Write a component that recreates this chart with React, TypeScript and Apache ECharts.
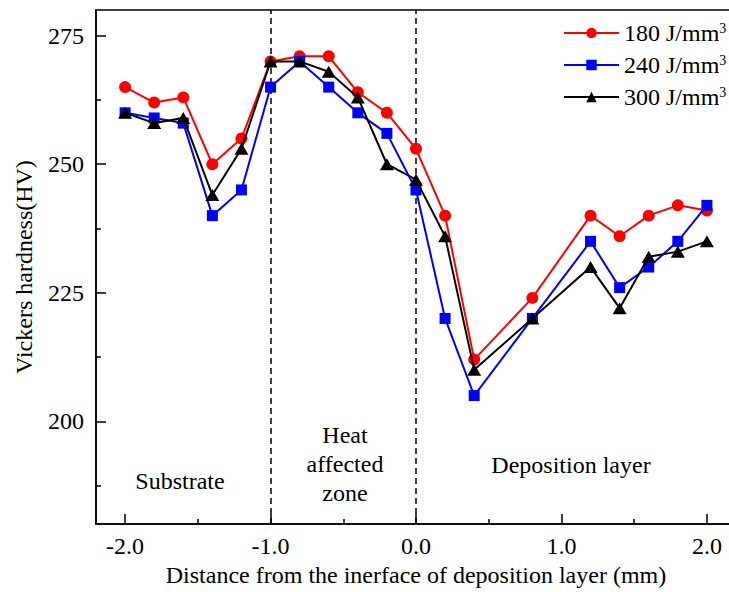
import React, { useEffect, useRef } from "react";
import * as echarts from "echarts";

const xValues = [-2.0, -1.8, -1.6, -1.4, -1.2, -1.0, -0.8, -0.6, -0.4, -0.2, 0.0, 0.2, 0.4, 0.8, 1.2, 1.4, 1.6, 1.8, 2.0];
const hv180 = [265, 262, 263, 250, 255, 270, 271, 271, 264, 260, 253, 240, 212, 224, 240, 236, 240, 242, 241];
const hv240 = [260, 259, 258, 240, 245, 265, 270, 265, 260, 256, 245, 220, 205, 220, 235, 226, 230, 235, 242];
const hv300 = [260, 258, 259, 244, 253, 270, 270, 268, 263, 250, 247, 236, 210, 220, 230, 222, 232, 233, 235];
const seriesNames = ["180", "240", "300"];
const xMajorTicks = [-2, -1, 0, 1, 2];
const xMinorTicks = [-1.5, -0.5, 0.5, 1.5];
const yMajorTicks = [200, 225, 250, 275];
const yMinorTicks = [187.5, 212.5, 237.5, 262.5];
const zoneBoundaries = [-1.0, 0.0];

const FONT = "Liberation Serif";

export default function App() {
  const ref = useRef<HTMLDivElement>(null);
  useEffect(() => {
    if (!ref.current) return;
    const chart = echarts.init(ref.current, undefined, { renderer: "svg" });
    const mk = (vals: number[]) => xValues.map((x, i) => [x, vals[i]]);
    const colors = ["#ff0000", "#0000ff", "#000000"];
    const symbols = ["circle", "rect", "triangle"];
    const sizes: any[] = [12, 11, [14, 12]];
    const datasets = [hv180, hv240, hv300];
    const series: any[] = datasets.map((d, i) => ({
      name: seriesNames[i],
      type: "line",
      data: mk(d),
      symbol: symbols[i],
      symbolSize: sizes[i],
      showAllSymbol: true,
      color: colors[i],
      itemStyle: { color: colors[i] },
      lineStyle: { color: colors[i], width: 2 },
      z: 3 + i,
    }));
    series[0].markLine = {
      silent: true,
      symbol: "none",
      label: { show: false },
      lineStyle: { type: [6, 4], color: "#000", width: 1.5 },
      data: zoneBoundaries.map((v) => ({ xAxis: v })),
      z: 2,
    };
    const axisCommon = {
      type: "value",
      splitLine: { show: false },
      axisLine: { show: true, onZero: false, lineStyle: { color: "#000", width: 1.5 } },
    };
    chart.setOption({
      animation: false,
      textStyle: { fontFamily: FONT, color: "#000" },
      grid: {
        left: 96,
        right: 1,
        top: 10,
        bottom: 65,
        show: true,
        borderColor: "#000",
        borderWidth: 1.5,
      },
      legend: {
        left: 563,
        top: 21,
        padding: 0,
        orient: "vertical",
        itemWidth: 55,
        itemHeight: 13,
        itemGap: 8,
        data: seriesNames,
        formatter: (n: string) => `{n|${n} J/mm}{s|3}`,
        textStyle: {
          fontFamily: FONT,
          color: "#000",
          rich: {
            n: { fontSize: 24, lineHeight: 24, fontFamily: FONT, color: "#000" },
            s: { fontSize: 14, lineHeight: 14, verticalAlign: "top", fontFamily: FONT, color: "#000" },
          },
        },
      },
      xAxis: [
        {
          ...axisCommon,
          min: -2.2,
          max: 2.2,
          name: "Distance from the inerface of deposition layer (mm)",
          nameLocation: "middle",
          nameGap: 38,
          nameTextStyle: { fontSize: 24, fontFamily: FONT, color: "#000" },
          axisTick: { show: true, inside: true, length: 10, customValues: xMajorTicks, lineStyle: { color: "#000", width: 1.5 } },
          axisLabel: {
            show: true,
            customValues: xMajorTicks,
            margin: 10,
            fontSize: 24,
            fontFamily: FONT,
            color: "#000",
            formatter: (v: number) => v.toFixed(1),
          },
        },
        {
          type: "value",
          position: "bottom",
          min: -2.2,
          max: 2.2,
          splitLine: { show: false },
          axisLine: { show: false, onZero: false },
          axisLabel: { show: false },
          axisTick: { show: true, inside: true, length: 5, customValues: xMinorTicks, lineStyle: { color: "#000", width: 1.5 } },
        },
      ],
      yAxis: [
        {
          ...axisCommon,
          min: 180,
          max: 280,
          name: "Vickers hardness(HV)",
          nameLocation: "middle",
          nameGap: 60,
          nameTextStyle: { fontSize: 24, fontFamily: FONT, color: "#000" },
          axisTick: { show: true, inside: true, length: 10, customValues: yMajorTicks, lineStyle: { color: "#000", width: 1.5 } },
          axisLabel: {
            show: true,
            customValues: yMajorTicks,
            margin: 12,
            fontSize: 24,
            fontFamily: FONT,
            color: "#000",
          },
        },
        {
          type: "value",
          position: "left",
          min: 180,
          max: 280,
          splitLine: { show: false },
          axisLine: { show: false, onZero: false },
          axisLabel: { show: false },
          axisTick: { show: true, inside: true, length: 5, customValues: yMinorTicks, lineStyle: { color: "#000", width: 1.5 } },
        },
      ],
      graphic: [
        {
          type: "text",
          x: 180,
          y: 481,
          style: { text: "Substrate", font: `24px "${FONT}"`, fill: "#000", align: "center", verticalAlign: "middle" },
        },
        {
          type: "text",
          x: 345,
          y: 464,
          style: {
            text: "Heat\naffected\nzone",
            font: `24px "${FONT}"`,
            lineHeight: 29,
            fill: "#000",
            align: "center",
            verticalAlign: "middle",
          },
        },
        {
          type: "text",
          x: 571,
          y: 465,
          style: { text: "Deposition layer", font: `24px "${FONT}"`, fill: "#000", align: "center", verticalAlign: "middle" },
        },
      ],
      series,
    });
    return () => chart.dispose();
  }, []);
  return (
    <div style={{ position: "absolute", left: 0, top: 0, width: 729, height: 592, overflow: "hidden", background: "#fff" }}>
      <div ref={ref} style={{ width: 737, height: 592 }} />
    </div>
  );
}
